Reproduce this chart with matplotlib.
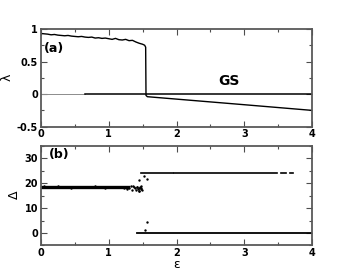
import numpy as np
import matplotlib
matplotlib.use("Agg")
import matplotlib.pyplot as plt
from matplotlib.ticker import MultipleLocator

# (a) largest exponent lambda vs epsilon
eps_a = [0.00, 0.05, 0.10, 0.15, 0.20, 0.25, 0.30, 0.35, 0.40, 0.45, 0.50,
         0.55, 0.60, 0.65, 0.70, 0.75, 0.80, 0.85, 0.90, 0.95, 1.00, 1.05,
         1.10, 1.15, 1.20, 1.25, 1.30, 1.35, 1.40, 1.45, 1.50, 1.53, 1.545,
         1.55, 1.57, 2.00, 3.00, 4.00]
lam_a = [0.93, 0.925, 0.92, 0.91, 0.915, 0.905, 0.90, 0.895, 0.90, 0.89, 0.885,
         0.88, 0.885, 0.875, 0.87, 0.875, 0.86, 0.865, 0.855, 0.86, 0.85, 0.84,
         0.855, 0.835, 0.83, 0.84, 0.82, 0.825, 0.80, 0.78, 0.765, 0.75, 0.72,
         -0.02, -0.04, -0.077, -0.163, -0.25]
zero_grey = [0.0, 0.65]
zero_black = [0.65, 4.0]

# (b) Delta vs epsilon
band_x = [0.0, 1.28]
band_y = [18.5, 18.5]
clus_x = [0.05, 0.25, 0.45, 0.62, 0.80, 0.95, 1.10, 1.18, 1.22, 1.27, 1.30, 1.33,
          1.35, 1.37, 1.39, 1.40, 1.42, 1.43, 1.44, 1.45, 1.46, 1.47, 1.48, 1.49,
          1.36, 1.41, 1.44, 1.47]
clus_y = [18.8, 19.0, 18.2, 18.7, 18.9, 18.3, 18.6, 18.4, 18.0, 17.7, 18.3, 18.8,
          17.5, 18.6, 18.1, 17.3, 18.7, 17.8, 18.3, 17.0, 18.5, 17.6, 18.0, 17.4,
          18.9, 18.4, 16.9, 18.8]
odd_x = [1.44, 1.52, 1.56, 1.56, 1.54]
odd_y = [21.2, 23.0, 21.7, 4.3, 1.2]
upper_segs = [(1.48, 1.95, 24.2), (1.97, 3.49, 24.2), (3.54, 3.61, 24.3), (3.68, 3.72, 24.3)]
lower_x = [1.42, 4.0]
lower_y = [0.0, 0.0]

fig = plt.figure(figsize=(3.53, 2.73), dpi=100)
ax1 = fig.add_axes([0.116, 0.536, 0.768, 0.358])
ax2 = fig.add_axes([0.116, 0.101, 0.768, 0.364])

ax1.plot(zero_grey, [0, 0], color="0.55", lw=0.7)
ax1.plot(zero_black, [0, 0], color="black", lw=1.1)
ax1.plot(eps_a, lam_a, color="black", lw=1.0)
ax1.set_xlim(0, 4)
ax1.set_ylim(-0.5, 1)
ax1.yaxis.set_major_locator(MultipleLocator(0.5))
ax1.yaxis.set_minor_locator(MultipleLocator(0.25))
ax1.set_yticks([-0.5, 0, 0.5, 1])
ax1.set_yticklabels(["-0.5", "0", "0.5", "1"])
ax1.set_ylabel("λ", fontsize=9)
ax1.yaxis.set_label_coords(-0.10, 0.5)
ax1.text(0.012, 0.80, "(a)", transform=ax1.transAxes, fontsize=9,
         fontweight="bold", va="center", ha="left")
ax1.text(2.77, 0.20, "GS", fontsize=10, fontweight="bold", ha="center", va="center")

ax2.plot(band_x, band_y, color="black", lw=2.4)
ax2.scatter(clus_x, clus_y, s=3, color="black", lw=0)
ax2.scatter(odd_x, odd_y, s=3, color="black", lw=0)
for x0, x1, y in upper_segs:
    ax2.plot([x0, x1], [y, y], color="black", lw=1.2)
ax2.plot(lower_x, lower_y, color="black", lw=1.3)
ax2.set_xlim(0, 4)
ax2.set_ylim(-5, 35)
ax2.yaxis.set_major_locator(MultipleLocator(10))
ax2.yaxis.set_minor_locator(MultipleLocator(5))
ax2.set_ylabel("Δ", fontsize=9)
ax2.yaxis.set_label_coords(-0.075, 0.51)
ax2.set_xlabel("ε", fontsize=9, labelpad=0)
ax2.text(0.03, 0.92, "(b)", transform=ax2.transAxes, fontsize=9,
         fontweight="bold", va="center", ha="left")

for ax in (ax1, ax2):
    ax.xaxis.set_major_locator(MultipleLocator(1))
    ax.xaxis.set_minor_locator(MultipleLocator(0.5))
    ax.tick_params(which="both", direction="in", top=True, right=True,
                   labelsize=7, pad=2, width=0.8, color="0.3")
    ax.tick_params(which="major", length=4)
    ax.tick_params(which="minor", length=2)
    for lab in ax.get_xticklabels() + ax.get_yticklabels():
        lab.set_fontweight("bold")
    for sp in ax.spines.values():
        sp.set_linewidth(1.3)
        sp.set_color("0.35")

fig.savefig("out.png", dpi=100)
